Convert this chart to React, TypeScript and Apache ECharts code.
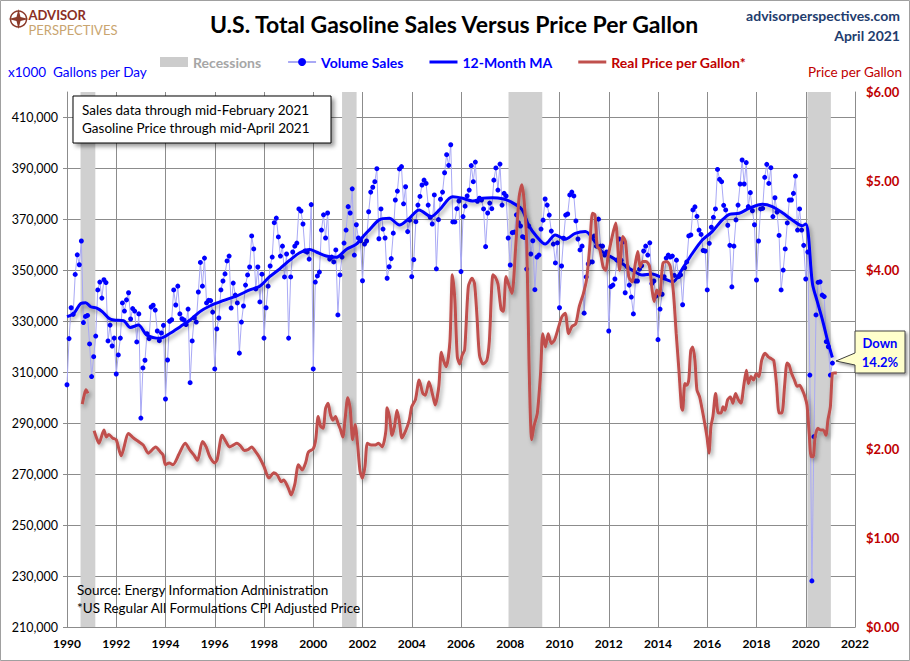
import React, { useEffect, useRef } from "react";
import * as echarts from "echarts";

const FONT = "Lato, 'Noto Sans', 'DejaVu Sans', sans-serif";

// Recession periods (decimal years)
const recessions: [number, number][] = [
  [1990.55, 1991.15],
  [2001.17, 2001.76],
  [2007.93, 2009.3],
  [2020.07, 2021.02],
];

// Monthly volume sales, thousands of gallons per day (Jan 1990 ...)
const volume1990s = [
  305.1, 323.2, 335.3, 332.7, 348.4, 356.1, 352.2, 361.5, 329.5, 331.9, 332.3, 321.1,
  308.3, 316.1, 324.2, 342.3, 345.4, 339.1, 346.3, 345.2, 322.3, 328.5, 320.3, 323.4,
  309.3, 316.8, 323.4, 337.2, 334.0, 338.4, 341.2, 330.9, 335.0, 334.0, 321.9, 332.9,
  292.0, 311.7, 314.7, 325.1, 323.2, 335.6, 336.3, 334.4, 326.2, 322.4, 325.4, 328.4,
  299.5, 314.8, 330.0, 330.6, 342.3, 336.4, 343.8, 332.9, 331.0, 330.5, 328.7, 334.8,
  305.9, 322.3, 331.4, 329.7, 341.5, 353.1, 343.8, 354.8, 337.2, 338.2, 338.1, 333.6,
  311.3, 327.0, 331.3, 342.3, 345.8, 348.6, 353.7, 355.6, 335.2, 345.0, 340.3, 337.2,
  317.5, 329.7, 336.0, 344.2, 348.2, 351.3, 363.5, 358.4, 342.7, 351.3, 337.6, 348.5,
  323.4, 335.3, 343.8, 351.7, 355.2, 368.7, 370.5, 363.1, 355.6, 359.5, 347.4, 356.4,
  323.4, 347.4, 357.2, 359.5, 360.7, 374.1, 373.3, 368.2, 357.6, 357.2, 354.4, 375.8,
];
const volume2000s = [
  311.3, 345.4, 347.8, 349.3, 365.8, 371.8, 362.7, 372.5, 354.4, 355.2, 353.3, 358.0,
  332.5, 348.2, 355.2, 360.7, 365.8, 375.0, 372.5, 382.0, 356.0, 367.9, 362.7, 361.6,
  345.9, 360.3, 361.5, 373.0, 380.7, 382.6, 384.8, 389.9, 362.4, 374.1, 366.2, 362.7,
  346.9, 351.4, 354.6, 364.6, 377.6, 381.1, 389.8, 390.7, 376.1, 382.8, 365.2, 369.7,
  347.5, 354.2, 369.1, 375.6, 379.0, 383.5, 385.4, 384.1, 375.6, 370.8, 368.2, 379.6,
  350.6, 369.9, 377.9, 380.7, 388.3, 395.4, 391.2, 399.3, 369.0, 369.0, 374.2, 377.2,
  349.5, 371.1, 375.2, 379.2, 381.5, 391.1, 384.8, 392.5, 377.1, 378.3, 377.6, 374.1,
  359.3, 372.5, 376.4, 374.2, 385.4, 390.2, 381.5, 391.7, 375.6, 380.2, 379.2, 362.7,
  352.1, 364.8, 365.0, 371.8, 368.7, 367.4, 363.2, 362.9, 350.5, 367.4, 356.4, 361.6,
  342.4, 355.2, 356.0, 366.2, 369.7, 378.0, 375.6, 371.7, 365.4, 360.3, 352.9, 360.8,
];
const volume2010s = [
  335.3, 351.7, 362.6, 371.7, 372.1, 379.6, 380.7, 379.2, 369.4, 362.3, 358.0, 359.5,
  333.2, 347.4, 352.5, 353.3, 353.3, 363.5, 359.5, 370.1, 359.5, 359.5, 356.0, 357.2,
  326.2, 343.6, 344.2, 346.6, 354.0, 362.3, 354.0, 361.2, 341.2, 351.4, 344.2, 339.5,
  332.9, 345.8, 345.8, 350.5, 351.8, 357.6, 359.5, 356.0, 360.8, 344.8, 345.8, 339.9,
  322.8, 334.8, 340.6, 347.5, 354.8, 356.0, 355.2, 355.6, 348.0, 354.0, 347.5, 348.2,
  336.5, 351.0, 353.3, 363.5, 363.9, 373.7, 374.9, 371.2, 365.8, 364.1, 357.8, 357.6,
  342.3, 360.6, 366.9, 370.8, 374.1, 389.6, 385.7, 384.8, 375.5, 373.7, 367.7, 359.8,
  343.5, 359.5, 369.8, 375.6, 383.9, 393.3, 383.9, 392.3, 375.0, 380.5, 373.4, 367.9,
  346.2, 361.5, 374.1, 374.3, 386.5, 391.6, 384.1, 390.3, 371.1, 378.5, 372.9, 363.7,
  342.3, 350.1, 358.4, 368.6, 377.6, 377.6, 380.2, 387.0, 365.8, 374.1, 365.8, 359.8,
];
const volume2020s = [
  346.6, 357.2, 308.9, 228.1, 284.7, 332.5, 345.3, 345.5, 340.3, 339.7, 322.0, 320.0,
  308.9, 313.6,
];

// 12-month moving average, [decimal year, thousands of gallons per day]
const movingAverage: [number, number][] = [
  [1990.0, 331.8], [1990.28, 333.1], [1990.56, 337.0], [1990.76, 337.3], [1990.96, 335.7],
  [1991.23, 335.1], [1991.43, 333.8], [1991.7, 331.2], [1991.9, 330.5], [1992.3, 330.2],
  [1992.57, 327.6], [1992.9, 328.5], [1993.24, 324.6], [1993.78, 323.3], [1994.19, 325.3],
  [1994.6, 327.9], [1995.0, 330.5], [1995.4, 333.8], [1995.8, 336.0], [1996.34, 338.1],
  [1996.88, 339.9], [1997.42, 342.3], [1997.83, 343.8], [1998.23, 347.5], [1998.64, 350.6],
  [1999.05, 354.0], [1999.45, 356.9], [1999.86, 358.2], [2000.12, 357.2], [2000.53, 355.6],
  [2000.93, 355.1], [2001.34, 358.2], [2001.75, 360.3], [2002.08, 363.9], [2002.27, 365.8],
  [2002.68, 369.8], [2003.09, 370.4], [2003.5, 367.8], [2003.9, 370.4], [2004.3, 373.7],
  [2004.78, 371.1], [2005.12, 373.7], [2005.66, 378.9], [2006.07, 378.3], [2006.47, 377.2],
  [2006.88, 378.3], [2007.28, 378.5], [2007.69, 378.1], [2008.0, 377.0], [2008.47, 373.9],
  [2008.74, 367.8], [2009.08, 363.2], [2009.42, 360.3], [2009.83, 363.9], [2010.23, 362.2],
  [2010.64, 364.5], [2011.05, 365.2], [2011.39, 361.9], [2011.73, 357.3], [2012.13, 355.1],
  [2012.54, 352.7], [2012.95, 350.1], [2013.35, 348.2], [2013.76, 348.6], [2014.2, 346.9],
  [2014.6, 345.5], [2015.0, 350.8], [2015.4, 356.7], [2015.8, 361.9], [2016.2, 365.2],
  [2016.6, 369.7], [2016.9, 372.0], [2017.3, 372.4], [2017.7, 374.3], [2018.24, 375.9],
  [2018.64, 375.0], [2019.05, 372.6], [2019.45, 369.8], [2019.86, 367.5], [2020.0, 368.2],
  [2020.1, 364.5], [2020.27, 344.9], [2020.47, 337.7], [2020.68, 330.5], [2020.88, 322.7],
  [2021.08, 315.8],
];

// Real (CPI adjusted) price per gallon, [decimal year, dollars]; null = gap
const realPrice: [number, number | null][] = [
  [1990.62, 2.5], [1990.7, 2.6], [1990.77, 2.66], [1990.85, 2.62], [1990.98, null],
  [1991.1, 2.2], [1991.2, 2.12], [1991.3, 2.06], [1991.5, 2.21], [1991.6, 2.13], [1991.7, 2.16],
  [1991.85, 2.12], [1992.0, 2.1], [1992.2, 1.92], [1992.5, 2.17], [1992.7, 2.12], [1992.9, 2.08],
  [1993.1, 2.04], [1993.3, 1.95], [1993.6, 2.02], [1993.8, 1.96], [1993.9, 1.93], [1994.0, 1.82],
  [1994.15, 1.84], [1994.3, 1.82], [1994.55, 1.94], [1994.8, 2.06], [1995.0, 1.98], [1995.15, 1.93],
  [1995.3, 1.87], [1995.5, 2.08], [1995.65, 2.02], [1995.8, 1.91], [1996.0, 1.84], [1996.1, 1.88],
  [1996.3, 2.15], [1996.45, 2.08], [1996.6, 2.02], [1996.75, 2.04], [1996.9, 2.06], [1997.05, 2.03],
  [1997.2, 1.98], [1997.35, 1.99], [1997.5, 2.02], [1997.65, 1.97], [1997.8, 1.91], [1998.0, 1.8],
  [1998.2, 1.67], [1998.4, 1.73], [1998.55, 1.7], [1998.7, 1.63], [1998.8, 1.65], [1998.9, 1.61],
  [1999.0, 1.55], [1999.1, 1.48], [1999.25, 1.6], [1999.4, 1.82], [1999.55, 1.76], [1999.7, 1.85],
  [1999.8, 1.96], [2000.0, 2.0], [2000.1, 2.1], [2000.2, 2.36], [2000.3, 2.25], [2000.4, 2.23],
  [2000.5, 2.45], [2000.6, 2.51], [2000.7, 2.38], [2000.8, 2.32], [2000.9, 2.36], [2001.0, 2.29],
  [2001.1, 2.22], [2001.2, 2.13], [2001.3, 2.35], [2001.4, 2.57], [2001.5, 2.45], [2001.6, 2.1],
  [2001.7, 2.27], [2001.8, 2.05], [2001.9, 1.75], [2002.0, 1.67], [2002.1, 1.8], [2002.2, 2.06],
  [2002.35, 2.04], [2002.5, 2.04], [2002.65, 2.06], [2002.8, 2.02], [2002.95, 2.2], [2003.0, 2.46],
  [2003.1, 2.35], [2003.2, 2.15], [2003.3, 2.25], [2003.4, 2.43], [2003.5, 2.3], [2003.6, 2.12],
  [2003.75, 2.2], [2003.9, 2.32], [2004.0, 2.47], [2004.15, 2.55], [2004.3, 2.77], [2004.45, 2.62],
  [2004.55, 2.6], [2004.7, 2.75], [2004.85, 2.6], [2004.95, 2.49], [2005.1, 2.7], [2005.2, 3.08],
  [2005.3, 2.98], [2005.4, 2.92], [2005.55, 3.2], [2005.65, 3.95], [2005.75, 3.67], [2005.85, 3.03],
  [2005.95, 2.95], [2006.05, 3.05], [2006.15, 3.11], [2006.3, 3.82], [2006.45, 3.91], [2006.55, 3.85],
  [2006.65, 3.48], [2006.75, 3.05], [2006.9, 2.95], [2007.05, 2.99], [2007.15, 3.2], [2007.3, 3.95],
  [2007.4, 3.92], [2007.5, 3.85], [2007.63, 3.56], [2007.72, 3.54], [2007.83, 3.93], [2007.96, 3.82],
  [2008.07, 3.74], [2008.22, 4.26], [2008.36, 4.82], [2008.47, 4.96], [2008.56, 4.79], [2008.67, 4.3],
  [2008.76, 3.0], [2008.87, 2.1], [2008.96, 2.25], [2009.1, 2.4], [2009.23, 2.84], [2009.32, 3.29],
  [2009.43, 3.14], [2009.54, 3.29], [2009.67, 3.18], [2009.8, 3.22], [2009.97, 3.37], [2010.1, 3.48],
  [2010.23, 3.52], [2010.37, 3.29], [2010.5, 3.37], [2010.66, 3.4], [2010.8, 3.59], [2010.97, 3.74],
  [2011.1, 3.9], [2011.23, 4.27], [2011.34, 4.64], [2011.44, 4.62], [2011.53, 4.27], [2011.64, 4.23],
  [2011.77, 4.04], [2011.88, 4.0], [2011.97, 4.15], [2012.14, 4.38], [2012.28, 4.53], [2012.44, 4.0],
  [2012.57, 4.38], [2012.68, 4.32], [2012.81, 3.93], [2012.95, 3.87], [2013.08, 4.08], [2013.18, 4.21],
  [2013.27, 4.04], [2013.38, 4.1], [2013.51, 4.1], [2013.65, 4.05], [2013.76, 3.78], [2013.84, 3.65],
  [2013.95, 3.78], [2014.06, 3.72], [2014.2, 4.08], [2014.36, 4.1], [2014.5, 4.04], [2014.63, 3.74],
  [2014.74, 3.29], [2014.85, 2.88], [2014.95, 2.47], [2015.0, 2.43], [2015.09, 2.73], [2015.17, 2.71],
  [2015.25, 2.77], [2015.33, 3.1], [2015.41, 3.14], [2015.5, 2.99], [2015.58, 2.66], [2015.69, 2.58],
  [2015.8, 2.43], [2015.9, 2.28], [2015.99, 2.13], [2016.07, 1.95], [2016.15, 2.25], [2016.23, 2.36],
  [2016.34, 2.62], [2016.45, 2.4], [2016.56, 2.4], [2016.64, 2.47], [2016.72, 2.43], [2016.83, 2.55],
  [2016.94, 2.58], [2017.04, 2.51], [2017.15, 2.62], [2017.26, 2.55], [2017.37, 2.51], [2017.48, 2.7],
  [2017.59, 2.88], [2017.67, 2.73], [2017.78, 2.81], [2017.88, 2.77], [2017.99, 2.84], [2018.1, 2.81],
  [2018.21, 2.99], [2018.35, 3.07], [2018.48, 3.03], [2018.59, 3.01], [2018.7, 2.99], [2018.81, 2.73],
  [2018.92, 2.4], [2019.03, 2.4], [2019.14, 2.7], [2019.24, 2.96], [2019.32, 2.94], [2019.43, 2.84],
  [2019.54, 2.77], [2019.65, 2.7], [2019.75, 2.71], [2019.86, 2.66], [2019.97, 2.58], [2020.05, 2.49],
  [2020.14, 2.17], [2020.22, 1.91], [2020.3, 1.91], [2020.38, 2.13], [2020.49, 2.23], [2020.6, 2.21],
  [2020.71, 2.21], [2020.82, 2.15], [2020.9, 2.32], [2021.0, 2.47], [2021.08, 2.84], [2021.16, 2.85],
  [2021.26, 2.85],
];

const xTicks = { min: 1990, max: 2022, step: 2 };
const salesTicks = { min: 210, max: 420, step: 20 };
const priceTicks = { min: 0, max: 6, step: 1 };
// the $3.00 price label is hidden behind the "Down 14.2%" callout in the reference
const hiddenPriceLabels = [3];

const GRID = "#8c8c8c";
const BLUE = "#0000ff";
const RED = "#c0504d";
const DARKRED = "#c00000";

export default function App() {
  const ref = useRef<HTMLDivElement>(null);

  useEffect(() => {
    if (!ref.current) return;
    const chart = echarts.init(ref.current, null, { renderer: "svg" });

    const allVolume = [...volume1990s, ...volume2000s, ...volume2010s, ...volume2020s];
    const volumePoints = allVolume.map((v, i) => [1990 + i / 12, v]);

    const shadow = {
      shadowBlur: 4,
      shadowColor: "rgba(0,0,0,0.35)",
      shadowOffsetX: 2,
      shadowOffsetY: 3,
    };

    const option: any = {
      animation: false,
      backgroundColor: "#ffffff",
      textStyle: { fontFamily: FONT },
      title: {
        text: "U.S. Total Gasoline Sales Versus Price Per Gallon",
        left: 449,
        top: 7,
        textAlign: "center",
        textStyle: { fontFamily: FONT, fontSize: 23, fontWeight: "bold", color: "#000" },
      },
      legend: {
        top: 50,
        left: 155,
        itemWidth: 28,
        itemHeight: 10,
        itemGap: 26,
        selectedMode: false,
        symbolKeepAspect: true,
        textStyle: { fontFamily: FONT, fontSize: 14, fontWeight: "bold" },
        data: [
          { name: "Recessions", icon: "rect", itemStyle: { color: "#cccccc" }, textStyle: { color: "#a6a6a6" } },
          { name: "Volume Sales", textStyle: { color: BLUE } },
          { name: "12-Month MA", icon: "path://M0,0 H28 V3 H0 Z", itemStyle: { color: BLUE }, textStyle: { color: BLUE } },
          { name: "Real Price per Gallon*", icon: "path://M0,0 H28 V3 H0 Z", itemStyle: { color: RED }, textStyle: { color: DARKRED } },
        ],
      },
      grid: { left: 67, right: 55, top: 92, bottom: 34 },
      xAxis: {
        type: "value",
        min: xTicks.min,
        max: xTicks.max,
        interval: xTicks.step,
        axisLine: { show: true, lineStyle: { color: GRID } },
        axisTick: { show: false },
        axisLabel: {
          formatter: (v: number) => String(v),
          color: "#000",
          fontWeight: "bold",
          fontSize: 12,
          margin: 10,
        },
        splitLine: { show: true, lineStyle: { color: GRID, width: 1 } },
      },
      yAxis: [
        {
          type: "value",
          position: "left",
          min: salesTicks.min,
          max: salesTicks.max,
          interval: salesTicks.step,
          axisLine: { show: true, lineStyle: { color: GRID } },
          axisTick: { show: true, length: 4, lineStyle: { color: GRID } },
          axisLabel: {
            formatter: (v: number) => (v * 1000).toLocaleString("en-US"),
            color: "#000",
            fontSize: 12.5,
            margin: 9,
            showMaxLabel: false,
          },
          splitLine: { show: true, showMaxLine: false, lineStyle: { color: GRID, width: 1 } },
        },
        {
          type: "value",
          position: "right",
          min: priceTicks.min,
          max: priceTicks.max,
          interval: priceTicks.step,
          axisLine: { show: true, lineStyle: { color: GRID } },
          axisTick: { show: false },
          axisLabel: {
            formatter: (v: number) => (hiddenPriceLabels.includes(v) ? "" : "$" + v.toFixed(2)),
            color: DARKRED,
            fontWeight: "bold",
            fontSize: 13,
            margin: 11,
          },
          splitLine: { show: false },
        },
      ],
      series: [
        {
          name: "Recessions",
          type: "line",
          data: [],
          color: "#cccccc",
          silent: true,
          markArea: {
            silent: true,
            itemStyle: { color: "#d0d0d0" },
            data: recessions.map(([a, b]) => [{ xAxis: a }, { xAxis: b }]),
          },
        },
        {
          name: "Volume Sales",
          type: "line",
          yAxisIndex: 0,
          data: volumePoints,
          symbol: "circle",
          symbolSize: 5,
          showSymbol: true,
          itemStyle: { color: BLUE },
          lineStyle: { color: "#a9a9f5", width: 1 },
          z: 3,
        },
        {
          name: "12-Month MA",
          type: "line",
          yAxisIndex: 0,
          data: movingAverage,
          symbol: "none",
          smooth: 0.3,
          itemStyle: { color: BLUE },
          lineStyle: { color: BLUE, width: 3, ...shadow },
          z: 4,
        },
        {
          name: "Real Price per Gallon*",
          type: "line",
          yAxisIndex: 1,
          data: realPrice,
          symbol: "none",
          smooth: 0.25,
          connectNulls: false,
          itemStyle: { color: RED },
          lineStyle: { color: RED, width: 3, ...shadow },
          z: 5,
        },
      ],
      graphic: [
        {
          type: "rect",
          shape: { x: 0.5, y: 0.5, width: 909, height: 660 },
          style: { fill: "none", stroke: "#a0a0a0", lineWidth: 1 },
          silent: true,
        },
        // logo
        {
          type: "group",
          left: 8,
          top: 8,
          children: [
            { type: "circle", shape: { cx: 9, cy: 11, r: 8 }, style: { fill: "none", stroke: "#8b3a2a", lineWidth: 1.5 } },
            {
              type: "polygon",
              shape: { points: [[9, 1], [11, 9], [19, 11], [11, 13], [9, 21], [7, 13], [-1, 11], [7, 9]] },
              style: { fill: "#8b3a2a" },
            },
            { type: "text", x: 19, y: 0, style: { text: "ADVISOR", font: `bold 13px ${FONT}`, fill: "#8b2e24" } },
            { type: "text", x: 19, y: 15, style: { text: "PERSPECTIVES", font: `13px ${FONT}`, fill: "#c9a56f" } },
          ],
        },
        {
          type: "text",
          x: 900,
          y: 8,
          style: { text: "advisorperspectives.com", font: `bold 14px ${FONT}`, fill: "#1f3d6e", textAlign: "right" },
        },
        {
          type: "text",
          x: 900,
          y: 28,
          style: { text: "April 2021", font: `bold 14px ${FONT}`, fill: "#1f3d6e", textAlign: "right" },
        },
        {
          type: "text",
          x: 8,
          y: 65,
          style: { text: "x1000  Gallons per Day", font: `13.5px ${FONT}`, fill: BLUE },
        },
        {
          type: "text",
          x: 902,
          y: 65,
          style: { text: "Price per Gallon", font: `13.5px ${FONT}`, fill: DARKRED, textAlign: "right" },
        },
        // note box
        {
          type: "rect",
          shape: { x: 73, y: 96, width: 258, height: 47 },
          style: { fill: "#fff", stroke: "#000", lineWidth: 1, shadowBlur: 4, shadowColor: "rgba(0,0,0,0.4)", shadowOffsetX: 3, shadowOffsetY: 3 },
          z: 20,
        },
        {
          type: "text",
          x: 82,
          y: 103,
          z: 21,
          style: { text: "Sales data through mid-February 2021", font: `13.5px ${FONT}`, fill: "#000" },
        },
        {
          type: "text",
          x: 82,
          y: 121,
          z: 21,
          style: { text: "Gasoline Price through mid-April 2021", font: `13.5px ${FONT}`, fill: "#000" },
        },
        // source
        {
          type: "text",
          x: 77,
          y: 583,
          z: 21,
          style: { text: "Source: Energy Information Administration", font: `13.5px ${FONT}`, fill: "#000" },
        },
        {
          type: "text",
          x: 77,
          y: 601,
          z: 21,
          style: { text: "*US Regular All Formulations CPI Adjusted Price", font: `13.5px ${FONT}`, fill: "#000" },
        },
        // callout
        {
          type: "polygon",
          z: 20,
          shape: {
            points: [[855, 331], [905, 331], [905, 373], [855, 373], [855, 365], [836, 361], [855, 353]],
          },
          style: { fill: "#ffffcc", stroke: "#404040", lineWidth: 1, shadowBlur: 3, shadowColor: "rgba(0,0,0,0.4)", shadowOffsetX: 2, shadowOffsetY: 2 },
        },
        {
          type: "text",
          x: 880,
          y: 335,
          z: 21,
          style: { text: "Down", font: `bold 13px ${FONT}`, fill: BLUE, textAlign: "center", lineHeight: 15 },
        },
        {
          type: "text",
          x: 880,
          y: 354,
          z: 21,
          style: { text: "14.2%", font: `bold 13px ${FONT}`, fill: BLUE, textAlign: "center", lineHeight: 15 },
        },
      ],
    };

    chart.setOption(option);
    return () => chart.dispose();
  }, []);

  return (
    <div
      ref={ref}
      style={{ position: "fixed", left: 0, top: 0, width: 910, height: 661, background: "#fff" }}
    />
  );
}
